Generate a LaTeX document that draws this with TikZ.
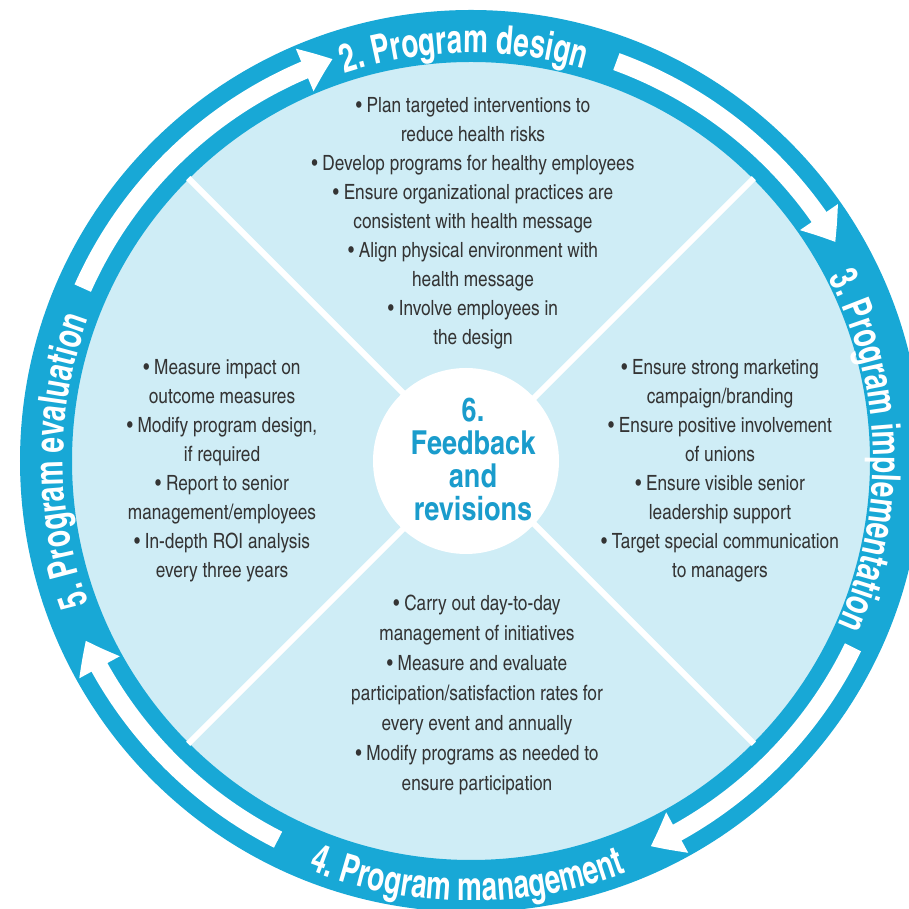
\documentclass[tikz,border=0pt]{standalone}
\usepackage{fontspec}
\setmainfont{texgyreheroscn}[Extension=.otf, UprightFont=*-regular, BoldFont=*-bold]
\newfontfamily\ringfont{texgyreheroscn}[Extension=.otf, UprightFont=*-bold, FakeStretch=0.85]
\usetikzlibrary{arrows.meta,bending,decorations.text}
\definecolor{ringblue}{RGB}{24,168,214}
\definecolor{discblue}{RGB}{207,237,246}
\definecolor{bodygray}{RGB}{52,52,52}
\definecolor{hubblue}{RGB}{26,156,204}

\begin{document}
\begin{tikzpicture}[x=1pt,y=1pt,
  ringband/.style={line width=18pt, white, -{Triangle[width=44pt,length=30pt,bend]}},
  ringlabel/.style={decorate, decoration={text along path, text align=center,
      text color=white, text={|\ringfont\fontsize{40}{48}\selectfont|#1}}},
  bullets/.style={align=center, text=bodygray, font=\fontsize{21}{29}\selectfont, inner sep=0pt},
  spoke/.style={white, line width=6pt},
]
\useasboundingbox (0,0) rectangle (909,909);
\clip (0,0) rectangle (909,909);
\fill[white] (0,0) rectangle (909,909);
\coordinate (C) at (471,448);

% disc, outer ring and the four dividing spokes
\fill[discblue] (C) circle[radius=400pt];
\draw[ringblue, line width=52pt] (C) circle[radius=425pt];
\foreach \a in {45,135,225,315}
  \draw[spoke] (C) -- ++(\a:400pt);

% hub
\node[circle, fill=white, minimum size=186pt, inner sep=0pt] (hub) at (466,448) {};
\node[align=center, text=hubblue, font=\bfseries\fontsize{33}{33}\selectfont, inner sep=0pt]
  (hubtext) at (473,449) {6.\\Feedback\\and\\revisions};

% white cycle arrows inside the ring
\draw[ringband] ([shift={(156:425pt)}]C) arc[start angle=156, end angle=109, radius=425pt];
\draw[ringband] ([shift={(70:425pt)}]C) arc[start angle=70, end angle=31, radius=425pt];
\draw[ringband] ([shift={(-26:425pt)}]C) arc[start angle=-26, end angle=-65, radius=425pt];
\draw[ringband] ([shift={(-117:425pt)}]C) arc[start angle=-117, end angle=-155, radius=425pt];

% stage labels on the ring
\path[ringlabel={2. Program design}] ([shift={(131:408pt)}]C) arc[start angle=131, end angle=51, radius=408pt];
\path[ringlabel={3. Program implementation}] ([shift={(47:402pt)}]C) arc[start angle=47, end angle=-44, radius=402pt];
\path[ringlabel={4. Program management}] ([shift={(-140:440pt)}]C) arc[start angle=-140, end angle=-41, radius=440pt];
\path[ringlabel={5. Program evaluation}] ([shift={(225:408pt)}]C) arc[start angle=225, end angle=135, radius=408pt];

% quadrant texts
\node[bullets] (design) at (473,685.5) {• Plan targeted interventions to\\reduce health risks\\• Develop programs for healthy employees\\• Ensure organizational practices are\\consistent with health message\\• Align physical environment with\\health message\\• Involve employees in\\the design};
\node[bullets] (implement) at (720,438.5) {• Ensure strong marketing\\campaign/branding\\• Ensure positive involvement\\of unions\\• Ensure visible senior\\leadership support\\• Target special communication\\to managers};
\node[bullets] (evaluate) at (222,438.5) {• Measure impact on\\outcome measures\\• Modify program design,\\if required\\• Report to senior\\management/employees\\• In-depth ROI analysis\\every three years};
\node[bullets, font=\fontsize{21}{30}\selectfont] (manage) at (477,214) {• Carry out day-to-day\\management of initiatives\\• Measure and evaluate\\participation/satisfaction rates for\\every event and annually\\• Modify programs as needed to\\ensure participation};
\end{tikzpicture}
\end{document}
